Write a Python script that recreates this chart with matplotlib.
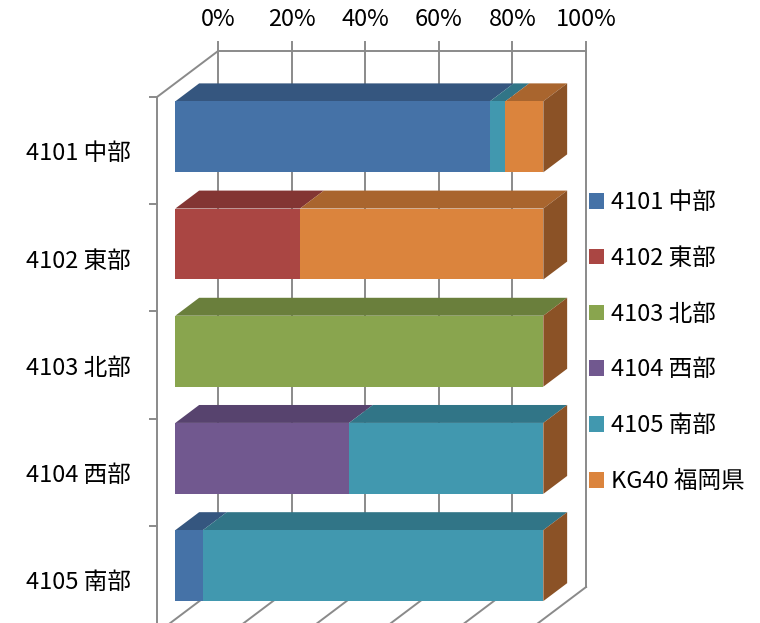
import matplotlib
matplotlib.use('Agg')
import matplotlib.pyplot as plt
from matplotlib.patches import Polygon, Patch
import numpy as np

plt.rcParams['font.family'] = ['Noto Sans CJK JP', 'DejaVu Sans']

# categories (rows, top to bottom) and series (stack order, left to right)
categories = ['4101 中部', '4102 東部', '4103 北部', '4104 西部', '4105 南部']
series = ['4101 中部', '4102 東部', '4103 北部', '4104 西部', '4105 南部', 'KG40 福岡県']

# share of each series in each row, percent
s4101 = [85.5, 0.0, 0.0, 0.0, 7.5]
s4102 = [0.0, 33.9, 0.0, 0.0, 0.0]
s4103 = [0.0, 0.0, 100.0, 0.0, 0.0]
s4104 = [0.0, 0.0, 0.0, 47.2, 0.0]
s4105 = [4.2, 0.0, 0.0, 52.8, 92.5]
skg40 = [10.3, 66.1, 0.0, 0.0, 0.0]

ticks = [0, 20, 40, 60, 80, 100]
tick_labels = ['0%', '20%', '40%', '60%', '80%', '100%']

front_cols = ['#4572A7', '#AA4643', '#89A54E', '#71588F', '#4198AF', '#DB843D']
top_cols = ['#35567F', '#833533', '#6A7F3C', '#57436E', '#317587', '#A9652E']
side_col = '#8B5226'
grid_col = '#8A8A8A'
FS = 17

vals = np.array([s4101, s4102, s4103, s4104, s4105, skg40])
vals = vals / vals.sum(axis=0) * 100

# oblique projection: depth d in [0, 1] shifts right and up
DX, DY = 16.6, -0.429
def proj(v, c, d):
    return (v + d * DX, c + d * DY)

fig = plt.figure(figsize=(7.6, 6.23), dpi=100)
ax = fig.add_axes([0, 0, 1, 1])
ax.set_xlim(-157 / 3.68, (760 - 157) / 3.68)
ax.set_ylim((623 - 97) / 107.2, -97 / 107.2)
ax.axis('off')

n = len(categories)

# back wall gridlines + ticks above, floor lines
for v, lab in zip(ticks, tick_labels):
    x0, y0 = proj(v, 0, 1)
    x1, y1 = proj(v, n, 1)
    ax.plot([x0, x1], [y0 - 0.084, y1], color=grid_col, lw=1.4, zorder=1)
    xf, yf = proj(v, n, 0)
    ax.plot([x1, xf], [y1, yf], color=grid_col, lw=1.4, zorder=1)
    ax.text(x0, y0 - 0.29, lab, ha='center', va='center', fontsize=FS)

# back top edge
a = proj(0, 0, 1); b = proj(100, 0, 1)
ax.plot([a[0], b[0]], [a[1], b[1]], color=grid_col, lw=1.4, zorder=1)
# left wall: top diagonal and front vertical edge
f0 = proj(0, 0, 0)
ax.plot([f0[0], a[0]], [f0[1], a[1]], color=grid_col, lw=1.4, zorder=1)
fb = proj(0, n, 0)
ax.plot([f0[0], fb[0]], [f0[1], fb[1]], color=grid_col, lw=1.4, zorder=1)
for i in range(n + 1):
    ax.plot([-1.9, 0], [i, i], color=grid_col, lw=1.4, zorder=1)

# category labels
for i, cat in enumerate(categories):
    ax.text(-7.1, i + 0.53, cat, ha='right', va='center', fontsize=FS)

# bars
d0, d1 = 0.3, 0.69
gap = 0.169
for i in range(n):
    ct, cb = i + gap, i + 1 - gap
    left = 0.0
    for k in range(len(series)):
        w = vals[k, i]
        if w <= 0:
            continue
        right = left + w
        top = [proj(left, ct, d0), proj(right, ct, d0), proj(right, ct, d1), proj(left, ct, d1)]
        frt = [proj(left, ct, d0), proj(right, ct, d0), proj(right, cb, d0), proj(left, cb, d0)]
        ax.add_patch(Polygon(top, closed=True, fc=top_cols[k], ec='none', zorder=3))
        ax.add_patch(Polygon(frt, closed=True, fc=front_cols[k], ec='none', zorder=3))
        left = right
    side = [proj(100, ct, d0), proj(100, ct, d1), proj(100, cb, d1), proj(100, cb, d0)]
    ax.add_patch(Polygon(side, closed=True, fc=side_col, ec='none', zorder=3))

handles = [Patch(fc=c, ec='none') for c in front_cols]
ax.legend(handles, series, loc='upper left', bbox_to_anchor=(589 / 760, 1 - 191 / 623),
          bbox_transform=fig.transFigure, frameon=False, fontsize=FS,
          handlelength=0.64, handleheight=0.64, handletextpad=0.3,
          labelspacing=1.39, borderpad=0, borderaxespad=0)

fig.savefig('out.png', dpi=100)
